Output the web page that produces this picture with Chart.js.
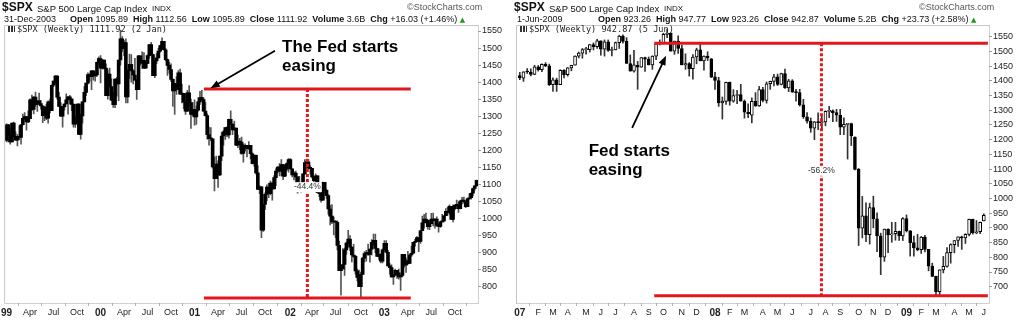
<!DOCTYPE html>
<html>
<head>
<meta charset="utf-8">
<title>$SPX weekly – Fed easing cycles</title>
<script src="https://cdn.jsdelivr.net/npm/chart.js@4.4.1/dist/chart.umd.min.js"></script>
<style>
  html, body { margin: 0; padding: 0; background: #fff; }
  body { width: 1024px; height: 322px; position: relative; overflow: hidden; }
  .panel { position: absolute; top: 0; width: 512px; height: 322px; }
  .panel canvas { position: absolute; left: 0; top: 0; }
  .t { position: absolute; white-space: pre; line-height: 1; font-family: "Liberation Sans", Arial, sans-serif; color: #111; z-index: 2; }
  .sym { font-size: 12px; font-weight: bold; }
  .name { font-size: 9.5px; }
  .exch { font-size: 8px; }
  .copy { font-size: 9px; color: #555; }
  .quote { font-size: 9px; }
  .up { font-style: normal; font-family: "DejaVu Sans", sans-serif; font-size: 7px; color: #1d9a1d; }
  .legend { font-family: "DejaVu Sans Mono", monospace; font-size: 8.6px; color: #222; }
  .icon { position: absolute; width: 7px; height: 6px; z-index: 2;
          background: repeating-linear-gradient(90deg, #333 0 2px, #fff 2px 3px); }
</style>
</head>
<body>

<div class="panel" style="left:0">
  <canvas id="spx99" width="512" height="322"></canvas>
  <span class="t sym" style="left:2px;top:1.3px">$SPX</span>
  <span class="t name" style="left:37px;top:3.5px">S&amp;P 500 Large Cap Index</span>
  <span class="t exch" style="left:152px;top:4.7px">INDX</span>
  <span class="t copy" style="left:407px;top:3px">©StockCharts.com</span>
  <span class="t quote" style="left:4px;top:15px">31-Dec-2003</span>
  <span class="t quote" style="left:70px;top:15px"><b>Open</b> 1095.89  <b>High</b> 1112.56  <b>Low</b> 1095.89  <b>Close</b> 1111.92  <b>Volume</b> 3.6B  <b>Chg</b> +16.03 (+1.46%) <i class="up">▲</i></span>
  <span class="icon" style="left:8px;top:26px"></span>
  <span class="t legend" style="left:17px;top:24.7px">$SPX (Weekly) 1111.92 (2 Jan)</span>
</div>

<div class="panel" style="left:512px">
  <canvas id="spx07" width="512" height="322"></canvas>
  <span class="t sym" style="left:2px;top:1.3px">$SPX</span>
  <span class="t name" style="left:37px;top:3.5px">S&amp;P 500 Large Cap Index</span>
  <span class="t exch" style="left:152px;top:4.7px">INDX</span>
  <span class="t copy" style="left:407px;top:3px">©StockCharts.com</span>
  <span class="t quote" style="left:5px;top:15px">1-Jun-2009</span>
  <span class="t quote" style="left:86px;top:15px"><b>Open</b> 923.26  <b>High</b> 947.77  <b>Low</b> 923.26  <b>Close</b> 942.87  <b>Volume</b> 5.2B  <b>Chg</b> +23.73 (+2.58%) <i class="up">▲</i></span>
  <span class="icon" style="left:8px;top:26px"></span>
  <span class="t legend" style="left:17px;top:24.7px">$SPX (Weekly) 942.87 (5 Jun)</span>
</div>

<script>
// ---------- 1999-2003, weekly bars (week 0 = week of 4 Jan 1999) ----------
const spx99Open = [
  1229,1275,1243,1225,1280,1240,1230,1240,1238,1275,1294,1299,1283,1293,1348,1320,1356,1335,1345,1337,1330,1302,1327,1294,1342,1316,1391,1403,1418,1356,1329,1300,1327,1336,1348,1357,1351,1335,1277,1282,1336,1247,1301,1342,1370,1397,1422,1416,1433,1418,1421,1458,
  1469,1441,1465,1441,1360,1424,1387,1347,1334,1409,1395,1465,1527,1499,1516,1357,1434,1452,1433,1421,1406,1378,1477,1456,1464,1441,1455,1478,1510,1481,1419,1462,1471,1491,1507,1520,1495,1466,1449,1437,1408,1374,1396,1379,1427,1365,1367,1341,1315,1369,1340,1305,
  1320,1298,1318,1342,1355,1349,1315,1302,1246,1234,1234,1151,1117,1160,1128,1183,1242,1254,1267,1245,1291,1277,1260,1265,1215,1226,1224,1191,1215,1211,1205,1215,1190,1161,1185,1134,1085,1093,966,1041,1071,1092,1073,1104,1087,1120,1139,1151,1139,1158,1124,1145,
  1161,1173,1146,1128,1133,1122,1096,1104,1090,1131,1164,1166,1148,1147,1122,1111,1125,1076,1073,1054,1106,1083,1067,1028,1007,990,990,989,921,847,852,865,908,928,940,916,893,889,846,827,800,836,884,897,900,895,910,930,936,912,889,895,
  875,908,927,901,861,856,829,834,848,841,829,833,895,863,876,868,893,898,930,933,944,933,964,987,998,995,976,985,998,994,998,980,977,990,993,1008,1021,1018,1036,997,1029,1039,1039,1029,1051,1053,1050,1035,1058,1061,1074,1088,1095.89
];
const spx99High = [
  1278,1276,1264,1280,1283,1254,1247,1272,1276,1306,1311,1300,1316,1351,1362,1358,1371,1346,1368,1347,1332,1328,1336,1345,1350,1392,1404,1420,1419,1370,1340,1328,1337,1366,1358,1361,1351,1337,1301,1336,1337,1306,1342,1387,1397,1427,1425,1433,1434,1426,1459,1474,
  1478,1466,1465,1454,1436,1441,1410,1370,1410,1414,1465,1553,1534,1522,1527,1436,1482,1481,1437,1470,1407,1478,1477,1489,1487,1464,1480,1510,1517,1482,1464,1484,1499,1509,1530,1520,1499,1468,1459,1454,1410,1396,1416,1434,1438,1394,1367,1364,1376,1390,1350,1340,
  1348,1330,1354,1373,1376,1355,1340,1307,1268,1267,1234,1180,1183,1169,1183,1253,1258,1267,1270,1292,1316,1278,1286,1265,1245,1235,1239,1218,1219,1215,1226,1215,1193,1186,1187,1155,1096,1093,1041,1075,1099,1103,1110,1105,1126,1146,1152,1161,1173,1158,1152,1163,
  1176,1176,1146,1138,1139,1122,1124,1106,1131,1173,1174,1173,1155,1147,1124,1131,1125,1091,1088,1107,1106,1086,1070,1039,1041,1004,994,993,934,854,912,913,931,965,950,916,924,892,852,849,843,886,903,907,925,910,938,954,954,913,911,897,
  911,935,935,907,868,864,834,852,848,852,834,895,895,884,904,896,919,930,939,947,944,965,1007,1012,1016,996,995,1015,1016,999,1005,986,992,1012,1008,1029,1033,1040,1036,1040,1040,1054,1048,1053,1062,1063,1050,1060,1073,1075,1089,1096,1112.56
];
const spx99Low = [
  1225,1225,1218,1225,1238,1230,1213,1231,1218,1274,1290,1259,1281,1293,1316,1307,1329,1314,1333,1321,1281,1287,1290,1280,1310,1316,1387,1393,1350,1328,1300,1268,1318,1336,1306,1336,1316,1268,1267,1282,1246,1233,1280,1342,1360,1394,1403,1378,1406,1403,1417,1453,
  1398,1438,1438,1360,1350,1385,1346,1326,1325,1359,1346,1450,1490,1478,1339,1339,1410,1400,1395,1406,1349,1378,1450,1440,1440,1441,1454,1470,1480,1419,1413,1454,1470,1488,1504,1494,1462,1420,1426,1402,1329,1305,1364,1377,1365,1339,1322,1305,1314,1330,1264,1300,
  1274,1276,1315,1335,1349,1314,1300,1233,1215,1228,1148,1081,1117,1091,1126,1170,1215,1232,1240,1236,1277,1246,1259,1214,1208,1202,1188,1165,1198,1181,1203,1175,1160,1153,1130,1085,1073,944,962,1026,1052,1061,1069,1054,1087,1096,1134,1125,1125,1114,1123,1140,
  1136,1143,1122,1113,1081,1074,1094,1077,1090,1130,1151,1146,1130,1118,1101,1099,1076,1064,1048,1054,1074,1059,1013,981,985,952,944,908,847,775,852,833,895,928,906,873,886,837,817,800,768,836,873,875,892,872,893,922,900,889,880,870,
  870,908,899,861,837,828,807,833,824,822,789,829,857,842,865,868,889,898,919,932,903,927,964,972,993,969,967,985,978,972,977,960,974,990,990,1008,1010,1013,997,990,1025,1036,1018,1028,1043,1045,1032,1035,1056,1057,1066,1083,1095.89
];
const spx99Close = [
  1275,1243,1225,1280,1240,1230,1240,1238,1275,1294,1299,1283,1293,1348,1320,1356,1335,1345,1337,1330,1302,1327,1294,1342,1316,1391,1403,1418,1356,1329,1300,1327,1336,1348,1357,1351,1335,1277,1282,1336,1247,1301,1342,1370,1397,1422,1416,1433,1418,1421,1458,1469,
  1441,1465,1441,1360,1424,1387,1347,1334,1409,1395,1465,1527,1499,1516,1357,1434,1452,1433,1421,1406,1378,1477,1456,1464,1441,1455,1478,1510,1481,1419,1462,1471,1491,1507,1520,1495,1466,1449,1437,1408,1374,1396,1379,1427,1365,1367,1341,1315,1369,1340,1305,1320,
  1298,1318,1342,1355,1349,1315,1302,1246,1234,1234,1151,1117,1160,1128,1183,1242,1254,1267,1245,1291,1277,1260,1265,1215,1226,1224,1191,1215,1211,1205,1215,1190,1161,1185,1134,1085,1093,966,1041,1071,1092,1073,1104,1087,1120,1139,1151,1139,1158,1124,1145,1161,
  1173,1146,1128,1133,1122,1096,1104,1090,1131,1164,1166,1148,1147,1122,1111,1125,1076,1073,1054,1106,1083,1067,1028,1007,990,990,989,921,847,852,865,908,928,940,916,893,889,846,827,800,836,884,897,900,895,910,930,936,912,889,895,875,
  908,927,901,861,856,829,834,848,841,829,833,895,863,876,868,893,898,930,933,944,933,964,987,998,995,976,985,998,994,998,980,977,990,993,1008,1021,1018,1036,997,1029,1039,1039,1029,1051,1053,1050,1035,1058,1061,1074,1088,1096,1111.92
];
const spx99TickWeeks = [0,13,26,39,52,65,78,91,104,117,130,143,157,169,182,196,209,222,235,248];
const spx99TickLabels = ['99','Apr','Jul','Oct','00','Apr','Jul','Oct','01','Apr','Jul','Oct','02','Apr','Jul','Oct','03','Apr','Jul','Oct'];
const spx99PriceTicks = [800,850,900,950,1000,1050,1100,1150,1200,1250,1300,1350,1400,1450,1500,1550];
// peak-to-trough measurement: level prices and week span
const spx99DropLevels = [1380, 767.2];
const spx99DropWeeks = [109.2, 223.6, 166.4];

// ---------- 2007-2009, weekly candles (week 0 = week of 1 Jan 2007) ----------
const spx07Open = [
  1418,1409,1431,1430,1422,1448,1438,1456,1451,1387,1403,1387,1436,1421,1444,1453,1484,1494,1506,1506,
  1523,1516,1536,1508,1533,1503,1505,1530,1552,1534,1459,1433,1453,1446,1479,1474,1454,1484,1526,1527,
  1558,1562,1501,1535,1510,1454,1459,1441,1481,1505,1468,1484,1475,1414,1401,1325,1330,1395,1331,1350,
  1353,1330,1293,1283,1330,1315,1370,1333,1390,1398,1414,1388,1425,1376,1400,1361,1360,1318,1278,1263,
  1239,1261,1258,1260,1296,1298,1292,1283,1242,1252,1255,1209,1099,899,941,877,969,931,873,800,
  896,876,880,888,873,932,890,850,832,826,869,827,770,735,683,757,769,816,843,857,
  870,866,878,929,883,887,923.26
];
const spx07High = [
  1429,1431,1442,1441,1453,1452,1458,1462,1457,1410,1409,1438,1438,1445,1453,1485,1498,1510,1514,1523,
  1529,1541,1536,1539,1539,1515,1532,1555,1556,1547,1488,1504,1466,1479,1481,1481,1485,1529,1539,1562,
  1576,1563,1535,1553,1521,1492,1462,1489,1511,1524,1485,1499,1476,1429,1412,1345,1396,1396,1370,1368,
  1388,1335,1322,1342,1360,1381,1378,1396,1399,1422,1423,1426,1440,1405,1404,1371,1371,1337,1292,1274,
  1262,1291,1285,1298,1313,1301,1303,1303,1274,1255,1256,1210,1102,1007,985,984,1008,951,882,896,
  897,919,919,889,935,944,891,872,878,871,875,827,780,736,758,803,833,846,857,870,
  872,880,930,930,925,920,947.77
];
const spx07Low = [
  1404,1398,1425,1417,1421,1433,1431,1448,1384,1364,1364,1387,1410,1416,1434,1453,1478,1477,1491,1498,
  1505,1510,1487,1484,1500,1485,1505,1510,1528,1459,1433,1429,1371,1446,1432,1454,1439,1472,1522,1527,
  1547,1501,1490,1493,1454,1439,1416,1406,1458,1468,1436,1469,1411,1371,1313,1270,1320,1317,1327,1322,
  1331,1273,1275,1257,1313,1313,1328,1324,1371,1383,1384,1386,1374,1363,1361,1331,1314,1272,1256,1225,
  1200,1234,1234,1247,1275,1261,1262,1217,1217,1134,1180,1097,840,866,853,845,900,819,741,786,
  816,851,858,857,857,886,804,804,822,813,818,754,734,667,673,747,766,780,815,837,
  827,847,873,879,880,880,923.26
];
const spx07Close = [
  1410,1431,1430,1422,1448,1438,1456,1451,1387,1403,1387,1436,1421,1444,1453,1484,1494,1506,1506,1523,
  1516,1536,1508,1533,1503,1503,1530,1552,1534,1459,1433,1454,1446,1479,1474,1454,1484,1526,1527,1558,
  1562,1501,1535,1510,1454,1459,1441,1481,1505,1468,1484,1478,1412,1401,1325,1331,1395,1331,1350,1353,
  1331,1293,1288,1330,1315,1370,1333,1390,1398,1414,1388,1425,1376,1400,1361,1360,1318,1278,1263,1239,
  1261,1258,1260,1296,1298,1292,1283,1242,1252,1255,1213,1099,899,941,877,969,931,873,800,896,
  876,880,888,873,932,890,850,832,826,869,827,770,735,683,757,769,816,843,857,870,
  866,878,929,883,887,919,942.87
];
const spx07TickWeeks = [0,5,9,13,18,22,26,31,35,39,44,48,53,57,61,66,70,74,79,83,87,92,96,100,105,109,113,118,122,126];
const spx07TickLabels = ['07','F','M','A','M','J','J','A','S','O','N','D','08','F','M','A','M','J','J','A','S','O','N','D','09','F','M','A','M','J'];
const spx07PriceTicks = [700,750,800,850,900,950,1000,1050,1100,1150,1200,1250,1300,1350,1400,1450,1500,1550];
const spx07DropLevels = [1527.5, 669];
const spx07DropWeeks = [36.5, 127.1, 81.9];

const FONT = '"Liberation Sans", Arial, sans-serif';
const RED = '#e3161b';

// light frame round the plot area, dotted on the price/time sides
const framePlugin = {
  id: 'frame',
  beforeDatasetsDraw(chart) {
    const { ctx, chartArea: a } = chart;
    ctx.save();
    ctx.lineWidth = 1;
    ctx.strokeStyle = '#c6c6c6';
    ctx.beginPath();
    ctx.moveTo(a.left - 0.5, a.bottom + 0.5);
    ctx.lineTo(a.left - 0.5, a.top - 0.5);
    ctx.lineTo(a.right + 0.5, a.top - 0.5);
    ctx.stroke();
    ctx.setLineDash([1, 1]);
    ctx.strokeStyle = '#a0a0a0';
    ctx.beginPath();
    ctx.moveTo(a.right + 0.5, a.top - 0.5);
    ctx.lineTo(a.right + 0.5, a.bottom + 0.5);
    ctx.lineTo(a.left - 0.5, a.bottom + 0.5);
    ctx.stroke();
    ctx.restore();
  }
};

function weeklyChart(id, s) {
  const weeks = s.close.map((_, i) => i);
  const wicks = weeks.map(i => ({ x: i, y: [s.low[i], s.high[i]] }));
  const bodies = weeks.map(i => ({ x: i, y: [s.open[i], s.close[i]] }));
  const [hi, lo] = s.levels;
  const [from, to, at] = s.weeks;
  const redLine = (pts, dash) => ({
    type: 'line', data: pts, borderColor: RED, borderWidth: 3, borderDash: dash || [],
    pointRadius: 0, order: 1
  });

  // caption, arrow and the measured drop, placed in price/week units
  const notes = {
    id: 'notes',
    afterDatasetsDraw(chart) {
      const { ctx, scales: { x, y } } = chart;
      ctx.save();
      const pct = ((lo / hi - 1) * 100).toFixed(1) + '%';
      ctx.font = '8.5px ' + FONT;
      const w = ctx.measureText(pct).width;
      const cx = x.getPixelForValue(at), cy = y.getPixelForValue(s.pctAt);
      ctx.fillStyle = '#fff';
      ctx.fillRect(cx - w / 2 - 1, cy - 5, w + 2, 10);
      ctx.fillStyle = '#333';
      ctx.textAlign = 'center';
      ctx.textBaseline = 'middle';
      ctx.fillText(pct, cx, cy);

      ctx.font = 'bold 17px ' + FONT;
      ctx.fillStyle = '#000';
      ctx.textAlign = 'left';
      ctx.textBaseline = 'alphabetic';
      const tx = x.getPixelForValue(s.caption.week), ty = y.getPixelForValue(s.caption.price);
      s.caption.lines.forEach((line, k) => ctx.fillText(line, tx, ty + k * 19));

      const x1 = x.getPixelForValue(s.arrow[0]), y1 = y.getPixelForValue(s.arrow[1]);
      const x2 = x.getPixelForValue(s.arrow[2]), y2 = y.getPixelForValue(s.arrow[3]);
      const ang = Math.atan2(y2 - y1, x2 - x1), head = 10;
      ctx.strokeStyle = '#000';
      ctx.lineWidth = 1.8;
      ctx.beginPath();
      ctx.moveTo(x1, y1);
      ctx.lineTo(x2 - head * 0.8 * Math.cos(ang), y2 - head * 0.8 * Math.sin(ang));
      ctx.stroke();
      ctx.beginPath();
      ctx.moveTo(x2, y2);
      ctx.lineTo(x2 - head * Math.cos(ang - 0.38), y2 - head * Math.sin(ang - 0.38));
      ctx.lineTo(x2 - head * Math.cos(ang + 0.38), y2 - head * Math.sin(ang + 0.38));
      ctx.closePath();
      ctx.fill();
      ctx.restore();
    }
  };

  const isYear = i => /^\d\d$/.test(s.tickLabels[i] || '');

  return new Chart(document.getElementById(id), {
    type: 'bar',
    data: {
      datasets: [
        { data: wicks, grouped: false, barThickness: 1, backgroundColor: s.wickColor, order: 3 },
        { data: bodies, grouped: false, barThickness: s.bodyWidth, minBarLength: 1, order: 2,
          backgroundColor: c => {
            if (c.dataIndex === undefined || !s.hollow) return '#000';
            return s.close[c.dataIndex] >= s.open[c.dataIndex] ? '#fff' : '#000';
          },
          borderColor: '#000', borderWidth: s.hollow ? 1 : 0, borderSkipped: false },
        redLine([{ x: from, y: hi }, { x: to, y: hi }]),
        redLine([{ x: from, y: lo }, { x: to, y: lo }]),
        redLine([{ x: at, y: hi }, { x: at, y: lo }], [3, 2])
      ]
    },
    options: {
      responsive: false,
      animation: false,
      devicePixelRatio: 1,
      events: [],
      layout: { padding: { top: 26, left: 5, right: 0, bottom: 0 } },
      plugins: { legend: { display: false }, tooltip: { enabled: false } },
      scales: {
        x: {
          type: 'linear', min: s.xMin, max: s.xMax, offset: false,
          grid: { drawOnChartArea: false, tickLength: 3, color: '#b4b4b4' },
          border: { display: false },
          afterBuildTicks: sc => { sc.ticks = s.tickWeeks.map(v => ({ value: v })); },
          afterFit: sc => { sc.height = 19; },
          ticks: {
            autoSkip: false, maxRotation: 0, padding: 1, color: '#222',
            callback: (v, i) => s.tickLabels[i],
            font: c => ({ family: FONT, size: isYear(c.index) ? 10 : 9, weight: isYear(c.index) ? 'bold' : 'normal' })
          }
        },
        y: {
          type: 'linear', position: 'right', min: s.yMin, max: s.yMax,
          grid: { drawOnChartArea: false, tickLength: 3, color: '#9a9a9a' },
          border: { display: false },
          afterBuildTicks: sc => { sc.ticks = s.priceTicks.map(v => ({ value: v })); },
          afterFit: sc => { sc.width = s.axisWidth; },
          ticks: { padding: 1, color: '#222', font: { family: FONT, size: 9 }, callback: v => String(v) }
        }
      }
    },
    plugins: [framePlugin, notes]
  });
}

weeklyChart('spx99', {
  open: spx99Open, high: spx99High, low: spx99Low, close: spx99Close,
  tickWeeks: spx99TickWeeks, tickLabels: spx99TickLabels, priceTicks: spx99PriceTicks,
  levels: spx99DropLevels, weeks: spx99DropWeeks, pctAt: 1092,
  caption: { week: 152.4, price: 1488, lines: ['The Fed starts', 'easing'] },
  arrow: [148.5, 1492, 112.8, 1382],
  xMin: -0.8, xMax: 260.8, yMin: 752.2, yMax: 1564.7, axisWidth: 34,
  wickColor: '#555', bodyWidth: 3, hollow: false
});

weeklyChart('spx07', {
  open: spx07Open, high: spx07High, low: spx07Low, close: spx07Close,
  tickWeeks: spx07TickWeeks, tickLabels: spx07TickLabels, priceTicks: spx07PriceTicks,
  levels: spx07DropLevels, weeks: spx07DropWeeks, pctAt: 1094,
  caption: { week: 18.7, price: 1146, lines: ['Fed starts', 'easing'] },
  arrow: [30.5, 1240, 39.7, 1485],
  xMin: -0.76, xMax: 127.4, yMin: 644.6, yMax: 1586.4, axisWidth: 35,
  wickColor: '#333', bodyWidth: 3, hollow: true
});
</script>
</body>
</html>
